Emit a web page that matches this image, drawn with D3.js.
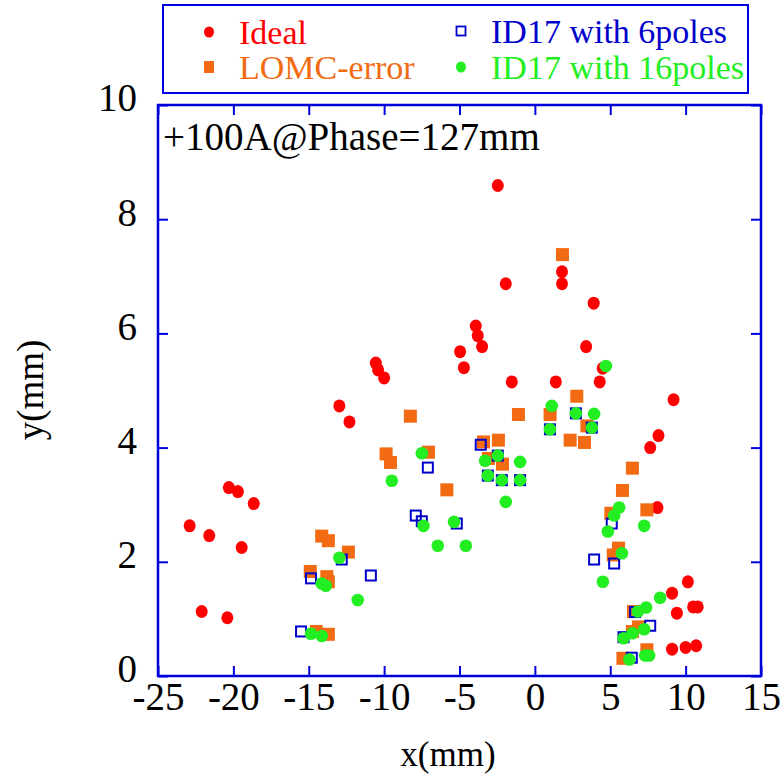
<!DOCTYPE html>
<html><head><meta charset="utf-8">
<script src="https://cdn.jsdelivr.net/npm/d3@7"></script>
<style>body{margin:0;background:#fff}svg{display:block}svg text{font-family:"Liberation Serif","Times New Roman",Times,"DejaVu Serif",serif}</style>
</head><body>
<script>
const xTicks = [-25,-20,-15,-10,-5,0,5,10,15];
const yTicks = [0,2,4,6,8,10];
const seriesNames = ["Ideal","LOMC-error","ID17 with 6poles","ID17 with 16poles"];
const idealX = [-22.9,-21.6,-22.1,-20.3,-19.7,-19.45,-18.65,-20.4,-12.97,-12.3,-10.55,-10.4,-10.0,-4.96,-4.71,-3.92,-3.79,-3.5,-2.46,-1.93,-1.53,1.39,1.8,1.8,3.4,3.9,4.3,4.5,9.2,8.2,7.65,8.13,10.15,9.1,10.5,10.8,9.42,9.1,10.0,10.7];
const idealY = [2.63,2.46,1.13,3.30,3.23,2.25,3.02,1.02,4.73,4.45,5.48,5.36,5.22,5.68,5.40,6.13,5.96,5.77,8.59,6.87,5.15,5.15,7.08,6.87,5.77,6.53,5.15,5.39,4.84,4.21,4.0,2.95,1.65,1.45,1.21,1.21,1.1,0.47,0.5,0.53];
const lomcX = [-14.14,-13.7,-12.37,-14.9,-13.8,-13.7,-14.5,-13.7,-8.26,-9.87,-9.58,-7.06,-5.84,-3.41,-2.42,-3.08,-2.15,-1.09,1.01,1.83,2.78,3.45,2.34,3.29,6.47,5.81,5.04,7.43,5.55,5.2,6.54,6.87,6.47,7.43,5.84];
const lomcY = [2.45,2.37,2.17,1.83,1.74,1.65,0.78,0.73,4.55,3.89,3.74,3.92,3.26,4.1,4.13,3.81,3.71,4.58,4.58,7.38,4.9,4.38,4.13,4.09,3.64,3.25,2.85,2.91,2.24,2.12,1.13,0.86,0.78,0.46,0.31];
const p6X = [-12.81,-14.85,-15.51,-10.88,-7.9,-7.5,-5.18,-7.1,-3.59,-3.12,-2.19,-0.98,-2.46,1.0,2.72,3.78,5.1,3.93,5.26,6.65,7.65,5.88,6.43];
const p6Y = [2.04,1.71,0.78,1.76,2.81,2.71,2.67,3.65,4.05,3.51,3.43,3.43,3.86,4.32,4.6,4.35,2.67,2.04,1.97,1.12,0.88,0.68,0.32];
const p16X = [-12.97,-14.14,-13.87,-11.75,-14.85,-14.14,-9.49,-7.5,-7.39,-5.36,-6.44,-4.58,-3.3,-2.46,-0.98,-3.12,-2.19,-0.98,-1.93,1.12,1.0,2.72,3.93,3.78,4.71,5.59,5.26,4.84,7.25,5.77,4.51,8.31,7.38,6.83,7.25,6.47,5.88,7.32,7.58,6.27];
const p16Y = [2.07,1.62,1.58,1.33,0.74,0.70,3.42,3.9,2.63,2.70,2.28,2.28,3.77,3.86,3.75,3.51,3.43,3.43,3.05,4.73,4.32,4.6,4.59,4.35,5.43,2.95,2.81,2.53,2.63,2.15,1.65,1.37,1.2,1.13,0.82,0.75,0.66,0.36,0.36,0.29];

const W = 781, H = 776;
const M = {left:158, right:761, top:105, bottom:676};
const axisColor = "#0000dd";
const cRed = "#ff0000", cOrange = "#f26a12", cBlue = "#0000cc", cGreen = "#22ee22";
const font = "\"Liberation Serif\",\"Times New Roman\",Times,\"DejaVu Serif\",serif";

const svg = d3.select("body").append("svg").attr("width",W).attr("height",H);
const x = d3.scaleLinear().domain([-25,15]).range([M.left,M.right]);
const y = d3.scaleLinear().domain([0,10]).range([M.bottom,M.top]);

function styleAxis(g, showLabels){
  g.attr("font-family",null).attr("font-size",null);
  g.select(".domain").remove();
  g.selectAll(".tick line").attr("stroke",axisColor).attr("stroke-width",2);
  g.selectAll(".tick text").attr("fill","#000").style("font-family",font).style("font-size","39px");
  if(!showLabels) g.selectAll(".tick text").remove();
}
const fmt = d=>String(d);
const tl = 10;
svg.append("g").attr("transform",`translate(0,${M.bottom})`)
  .call(d3.axisBottom(x).tickValues(xTicks).tickFormat(fmt).tickSizeInner(-tl).tickSizeOuter(0).tickPadding(6))
  .call(g=>styleAxis(g,true));
svg.append("g").attr("transform",`translate(0,${M.top})`)
  .call(d3.axisTop(x).tickValues(xTicks).tickSizeInner(-tl).tickSizeOuter(0))
  .call(g=>styleAxis(g,false));
svg.append("g").attr("transform",`translate(${M.left},0)`)
  .call(d3.axisLeft(y).tickValues(yTicks).tickFormat(fmt).tickSizeInner(-tl).tickSizeOuter(0).tickPadding(21))
  .call(g=>{styleAxis(g,true); g.selectAll(".tick text").attr("dy","0.15em");});
svg.append("g").attr("transform",`translate(${M.right},0)`)
  .call(d3.axisRight(y).tickValues(yTicks).tickSizeInner(-tl).tickSizeOuter(0))
  .call(g=>styleAxis(g,false));

svg.append("rect").attr("x",M.left).attr("y",M.top).attr("width",M.right-M.left).attr("height",M.bottom-M.top)
  .attr("fill","none").attr("stroke",axisColor).attr("stroke-width",2.5);

// Axis titles
svg.append("text").attr("x",448).attr("y",766).attr("text-anchor","middle")
  .style("font-family",font).style("font-size","35px").text("x(mm)");
svg.append("text").attr("transform",`translate(43,390) rotate(-90)`).attr("text-anchor","middle")
  .style("font-family",font).style("font-size","37px").text("y(mm)");

// annotation
svg.append("text").attr("x",163).attr("y",150).style("font-family",font).style("font-size","39px").text("+100A@Phase=127mm");

const plot = svg.append("g");
const zip = (a,b)=>a.map((v,i)=>[v,b[i]]);
plot.selectAll(".ideal").data(zip(idealX,idealY)).join("ellipse")
  .attr("cx",d=>x(d[0])).attr("cy",d=>y(d[1])).attr("rx",6).attr("ry",6.5).attr("fill",cRed);
const sq = 13;
plot.selectAll(".lomc").data(zip(lomcX,lomcY)).join("rect")
  .attr("x",d=>x(d[0])-sq/2).attr("y",d=>y(d[1])-sq/2).attr("width",sq).attr("height",sq).attr("fill",cOrange);
const bs = 10;
plot.selectAll(".p6").data(zip(p6X,p6Y)).join("rect")
  .attr("x",d=>x(d[0])-bs/2).attr("y",d=>y(d[1])-bs/2).attr("width",bs).attr("height",bs)
  .attr("fill","none").attr("stroke",cBlue).attr("stroke-width",2);
plot.selectAll(".p16").data(zip(p16X,p16Y)).join("circle")
  .attr("cx",d=>x(d[0])).attr("cy",d=>y(d[1])).attr("r",6.3).attr("fill",cGreen);

// Legend
const lg = svg.append("g");
lg.append("rect").attr("x",163).attr("y",5).attr("width",585).attr("height",88)
  .attr("fill","#fff").attr("stroke",axisColor).attr("stroke-width",2);
const legendItems = [
  {name:seriesNames[0], col:cRed, mx:209, my:32, shape:"circle"},
  {name:seriesNames[1], col:cOrange, mx:209, my:67, shape:"square"},
  {name:seriesNames[2], col:cBlue, mx:461, my:31, shape:"open"},
  {name:seriesNames[3], col:cGreen, mx:461, my:67, shape:"circle"}
];
legendItems.forEach(it=>{
  if(it.shape==="circle") lg.append("ellipse").attr("cx",it.mx).attr("cy",it.my).attr("rx",5).attr("ry",5.5).attr("fill",it.col);
  else if(it.shape==="square") lg.append("rect").attr("x",it.mx-5).attr("y",it.my-6).attr("width",10).attr("height",12).attr("fill",it.col);
  else lg.append("rect").attr("x",it.mx-4.5).attr("y",it.my-4.5).attr("width",9).attr("height",9).attr("fill","none").attr("stroke",it.col).attr("stroke-width",1.8);
  lg.append("text").attr("x",it.mx+30).attr("y",it.my+12).attr("fill",it.col).style("font-family",font).style("font-size","34px").text(it.name);
});
</script>
</body></html>
